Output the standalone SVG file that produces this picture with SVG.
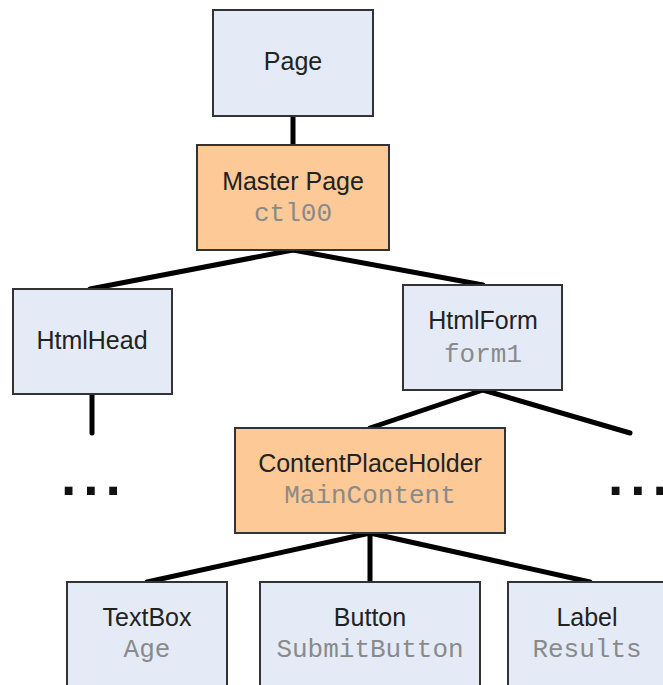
<svg xmlns="http://www.w3.org/2000/svg" width="663" height="685" viewBox="0 0 663 685">
  <style>
    .box { stroke: #333; stroke-width: 2; }
    .ctrl { fill: #e5ebf6; }
    .master { fill: #fdc996; }
    .name { font-family: "Liberation Sans", Arial, sans-serif; font-size: 25px; fill: #222; text-anchor: middle; }
    .id { font-family: "Liberation Mono", "Courier New", monospace; font-size: 26px; fill: #8a8a8a; text-anchor: middle; }
    .dots { font-family: "Liberation Sans", Arial, sans-serif; font-weight: bold; font-size: 55px; letter-spacing: 7px; fill: #111; }
    .link { stroke: #000; stroke-width: 5; fill: none; stroke-linecap: round; }
  </style>
  <rect width="663" height="685" fill="#fff"/>

  <!-- tree edges -->
  <g id="connectors">
    <line class="link" x1="293" y1="116" x2="293" y2="145"/>
    <line class="link" x1="293" y1="250" x2="90" y2="289"/>
    <line class="link" x1="293" y1="250" x2="483" y2="285"/>
    <line class="link" x1="92" y1="394" x2="92" y2="433"/>
    <line class="link" x1="483" y1="390" x2="370" y2="428"/>
    <line class="link" x1="483" y1="390" x2="630" y2="433"/>
    <line class="link" x1="370" y1="533" x2="147" y2="582"/>
    <line class="link" x1="370" y1="533" x2="370" y2="582"/>
    <line class="link" x1="370" y1="533" x2="590" y2="582"/>
  </g>

  <g id="page">
    <rect class="box ctrl" x="213" y="10" width="160" height="106"/>
    <text class="name" x="293" y="70">Page</text>
  </g>

  <g id="master-page">
    <rect class="box master" x="197" y="145" width="192" height="105"/>
    <text class="name" x="293" y="190">Master Page</text>
    <text class="id" x="293" y="221">ctl00</text>
  </g>

  <g id="html-head">
    <rect class="box ctrl" x="13" y="289" width="159" height="105"/>
    <text class="name" x="92" y="349">HtmlHead</text>
  </g>

  <g id="html-form">
    <rect class="box ctrl" x="403" y="285" width="159" height="105"/>
    <text class="name" x="483" y="329">HtmlForm</text>
    <text class="id" x="483" y="362">form1</text>
  </g>

  <g id="content-placeholder">
    <rect class="box master" x="235" y="428" width="270" height="105"/>
    <text class="name" x="370" y="472">ContentPlaceHolder</text>
    <text class="id" x="370" y="503">MainContent</text>
  </g>

  <g id="textbox-age">
    <rect class="box ctrl" x="67" y="582" width="160" height="110"/>
    <text class="name" x="147" y="626">TextBox</text>
    <text class="id" x="147" y="657">Age</text>
  </g>

  <g id="button-submit">
    <rect class="box ctrl" x="260" y="582" width="220" height="110"/>
    <text class="name" x="370" y="626">Button</text>
    <text class="id" x="370" y="657">SubmitButton</text>
  </g>

  <g id="label-results">
    <rect class="box ctrl" x="508" y="582" width="170" height="110"/>
    <text class="name" x="587" y="626">Label</text>
    <text class="id" x="587" y="657">Results</text>
  </g>

  <!-- elided children -->
  <g id="head-more">
    <text class="dots" x="61" y="495">...</text>
  </g>
  <g id="form-more">
    <text class="dots" x="608" y="495">...</text>
  </g>
</svg>
